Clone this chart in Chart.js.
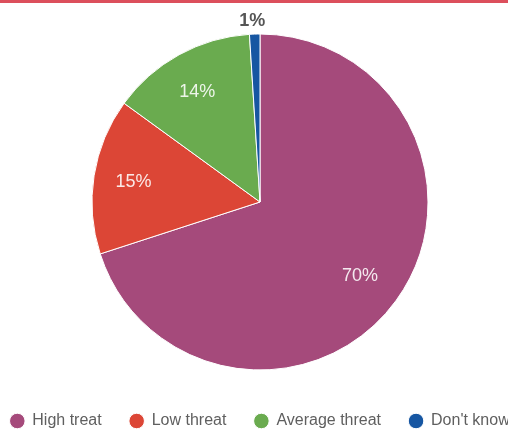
<!DOCTYPE html>
<html>
<head>
<meta charset="utf-8">
<script src="https://cdn.jsdelivr.net/npm/chart.js@4/dist/chart.umd.min.js"></script>
<style>
  html, body { margin: 0; padding: 0; background: #fff; overflow: hidden; }
  #topline { position: absolute; left: 0; top: 0; width: 100%; height: 3px; background: #dc4f5c; }
  #wrap { position: absolute; left: -40px; top: 0; }
</style>
</head>
<body>
<div id="wrap"><canvas id="chart" width="600" height="439"></canvas></div>
<div id="topline"></div>
<script>
const categories = ['High treat', 'Low threat', 'Average threat', "Don't know"];
const shares = [70, 15, 14, 1];
const sliceColors = ['#a54a7b', '#dc4636', '#6aab4f', '#1656a2'];

// percentage text on each slice; thin slices get it outside the rim
const sliceLabels = {
    id: 'sliceLabels',
    afterDatasetsDraw(chart) {
        const ctx = chart.ctx;
        const meta = chart.getDatasetMeta(0);
        ctx.save();
        ctx.textAlign = 'center';
        ctx.textBaseline = 'middle';
        meta.data.forEach((arc, i) => {
            const p = arc.getProps(['x', 'y', 'startAngle', 'endAngle', 'outerRadius']);
            const mid = (p.startAngle + p.endAngle) / 2;
            const outside = shares[i] < 5;
            const r = outside ? p.outerRadius + 13 : p.outerRadius * 0.75;
            ctx.font = (outside ? 'bold ' : '') + '18px "Liberation Sans", Arial, sans-serif';
            ctx.fillStyle = outside ? '#555' : 'rgba(255,255,255,0.88)';
            ctx.fillText(shares[i] + '%', p.x + Math.cos(mid) * r - 2, p.y + Math.sin(mid) * r);
        });
        ctx.restore();
    }
};

Chart.defaults.font.family = '"Liberation Sans", Arial, sans-serif';

new Chart(document.getElementById('chart'), {
    type: 'pie',
    data: {
        labels: categories,
        datasets: [{
            data: shares,
            backgroundColor: sliceColors,
            borderColor: '#fff',
            borderWidth: 1,
            radius: 168
        }]
    },
    options: {
        responsive: false,
        animation: false,
        devicePixelRatio: 1,
        layout: { padding: { top: 19, bottom: 0, left: 0, right: 0 } },
        plugins: {
            tooltip: { enabled: false },
            legend: {
                position: 'bottom',
                labels: {
                    usePointStyle: true,
                    pointStyle: 'circle',
                    boxWidth: 14,
                    boxHeight: 11,
                    padding: 28,
                    color: '#5f5f5f',
                    font: { size: 16 }
                }
            }
        }
    },
    plugins: [sliceLabels]
});
</script>
</body>
</html>
